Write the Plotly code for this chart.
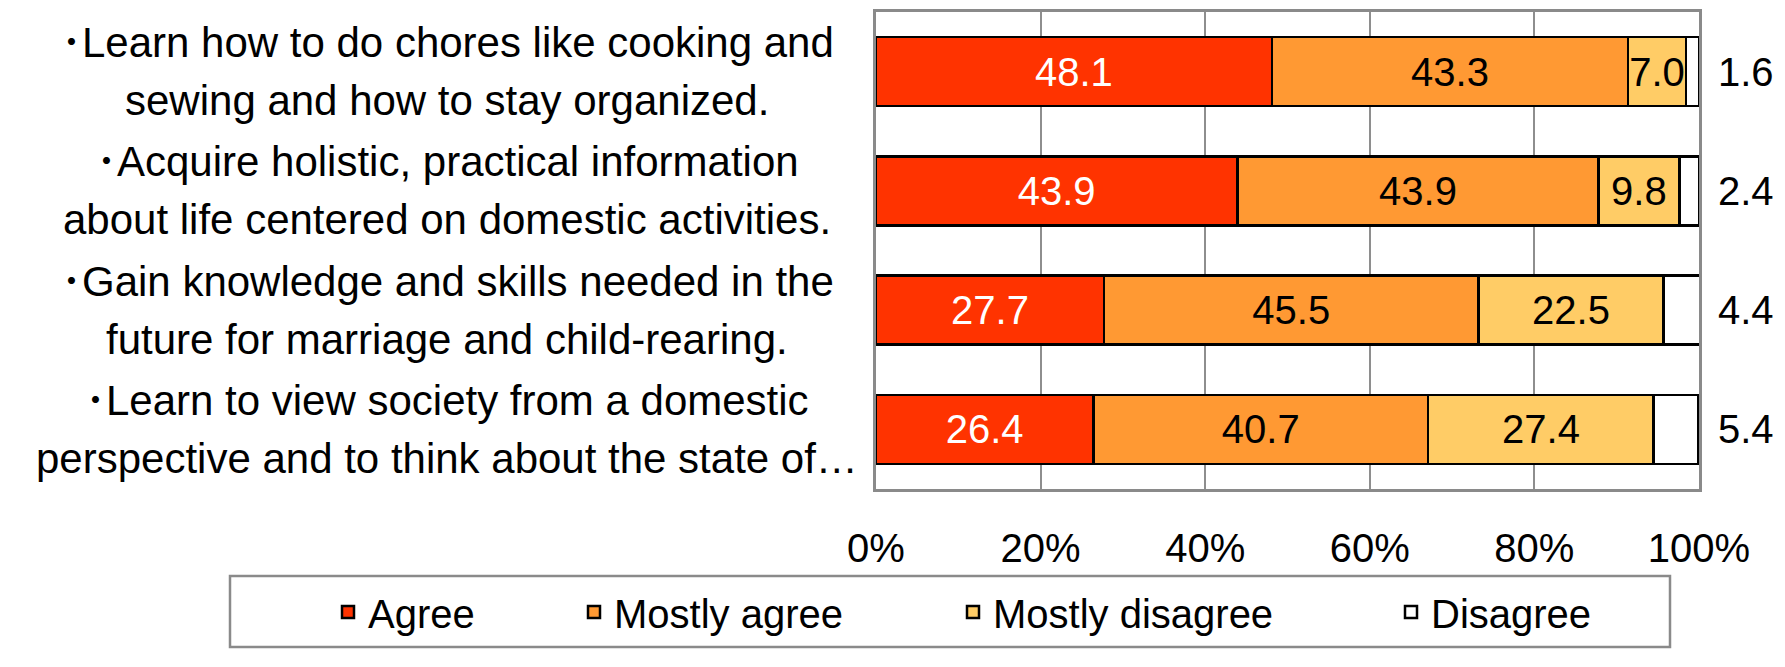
import plotly.graph_objects as go

# ---- data ----
categories = [
    "･Learn how to do chores like cooking and<br>sewing and how to stay organized.",
    "･Acquire holistic, practical information<br>about life centered on domestic activities.",
    "･Gain knowledge and skills needed in the<br>future for marriage and child-rearing.",
    "･Learn to view society from a domestic<br>perspective and to think about the state of…",
]
series_names = ["Agree", "Mostly agree", "Mostly disagree", "Disagree"]
agree = [48.1, 43.9, 27.7, 26.4]
mostly_agree = [43.3, 43.9, 45.5, 40.7]
mostly_disagree = [7.0, 9.8, 22.5, 27.4]
disagree = [1.6, 2.4, 4.4, 5.4]
tick_values = [0, 20, 40, 60, 80, 100]
tick_labels = ["0%", "20%", "40%", "60%", "80%", "100%"]

# ---- styles ----
FONT = "Liberation Sans, Arial, Noto Sans CJK JP, sans-serif"
colors = ["#FF3300", "#FF9933", "#FFCC66", "#FFFFFF"]
text_colors = ["#FFFFFF", "#000000", "#000000", "#000000"]
values = [agree, mostly_agree, mostly_disagree, disagree]
legend_ids = ["legend", "legend2", "legend3", "legend4"]

# page body has an 8px margin; size the figure so it fits the 1785x667 window
OFF = 8
W, H = 1785 - 2 * OFF, 667 - 2 * OFF
ML = 876 - OFF
PR = 1699 - OFF
PT = 12 - OFF
PB = 489 - OFF
MR = W - PR
MT = PT
MB = H - PB
PW = PR - ML
PH = PB - PT

def px_to_paper_x(px):
    # px given in reference-image coordinates
    return (px - OFF - ML) / PW

def px_to_paper_y(py):
    return (PB - (py - OFF)) / PH

fig = go.Figure()
for i, (name, vals) in enumerate(zip(series_names, values)):
    show_text = i < 3
    fig.add_trace(go.Bar(
        name=name,
        y=categories,
        x=vals,
        orientation="h",
        marker=dict(color=colors[i], line=dict(color="#000000", width=2.5)),
        text=[f"{v:.1f}" for v in vals] if show_text else None,
        textposition="inside" if show_text else "none",
        insidetextanchor="middle",
        constraintext="none",
        textangle=0,
        textfont=dict(family=FONT, size=40, color=text_colors[i]),
        legend=legend_ids[i],
        hoverinfo="x+name",
    ))

annotations = []
# category labels, centered two-line text left of the plot
for cat in categories:
    lines = cat.split("<br>")
    shifts = [29, -29]
    for line, sh in zip(lines, shifts):
        annotations.append(dict(
            text=line, xref="paper", yref="y", x=px_to_paper_x(447), y=cat,
            xanchor="center", yanchor="middle", yshift=sh, showarrow=False,
            font=dict(family=FONT, size=42, color="#000000"),
        ))
# disagree values to the right of the bars
for cat, v in zip(categories, disagree):
    annotations.append(dict(
        text=f"{v:.1f}", xref="paper", yref="y", x=1, y=cat,
        xanchor="center", yanchor="middle", xshift=47, showarrow=False,
        font=dict(family=FONT, size=40, color="#000000"),
    ))

# legend items positioned separately (text starts, reference px)
legend_text_starts = [368, 614, 993, 1431]
legend_layouts = {}
for lid, tx in zip(legend_ids, legend_text_starts):
    legend_layouts[lid] = dict(
        orientation="h", x=px_to_paper_x(tx - 40), y=px_to_paper_y(612),
        xanchor="left", yanchor="middle", bgcolor="rgba(0,0,0,0)",
        borderwidth=0, font=dict(family=FONT, size=40, color="#000000"),
    )

shapes = [dict(
    type="rect", xref="paper", yref="paper",
    x0=px_to_paper_x(230), x1=px_to_paper_x(1670),
    y0=px_to_paper_y(647), y1=px_to_paper_y(576),
    line=dict(color="#8A8A8A", width=2.5), fillcolor="rgba(0,0,0,0)", layer="below",
)]

fig.update_layout(
    width=W, height=H,
    margin=dict(l=ML, r=MR, t=MT, b=MB, autoexpand=False),
    barmode="stack",
    bargap=0.42,
    plot_bgcolor="#FFFFFF",
    paper_bgcolor="#FFFFFF",
    font=dict(family=FONT, size=40, color="#000000"),
    annotations=annotations,
    shapes=shapes,
    showlegend=True,
    **legend_layouts,
)
fig.update_xaxes(
    range=[0, 100], tickvals=tick_values, ticktext=tick_labels,
    showgrid=True, gridcolor="#8E8E8E", gridwidth=2,
    showline=True, mirror=True, linecolor="#8A8A8A", linewidth=2.5,
    ticks="", ticklabelstandoff=22, zeroline=False,
    tickfont=dict(family=FONT, size=40, color="#000000"),
)
fig.update_yaxes(
    categoryorder="array", categoryarray=categories, autorange="reversed",
    showticklabels=False, showgrid=False,
    showline=True, mirror=True, linecolor="#8A8A8A", linewidth=2.5,
    ticks="", zeroline=False,
)

fig.write_html("out.html")
